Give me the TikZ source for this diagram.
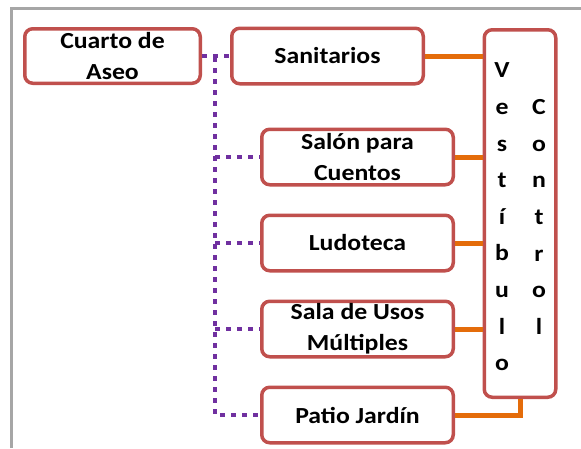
\documentclass[tikz,border=0pt]{standalone}
\usepackage{fontspec}
\setmainfont{Carlito}[FakeStretch=1.12]
\usepackage{xcolor}
\usepackage{tikz}
\usetikzlibrary{positioning, calc}
\definecolor{boxred}{RGB}{192, 80, 77}
\definecolor{linkorange}{RGB}{228, 108, 10}
\definecolor{linkpurple}{RGB}{112, 48, 160}
\definecolor{framegray}{RGB}{166, 166, 166}

\begin{document}
\begin{tikzpicture}[
    x=1pt, y=-1pt,
    room/.style={rectangle, draw=boxred, fill=white, line width=3.5pt, rounded corners=8pt, align=center, minimum width=191.5pt, minimum height=55.5pt, inner sep=2pt, font=\fontsize{23}{31}\selectfont\bfseries},
    letters/.style={align=center, inner sep=0pt, font=\fontsize{23}{36.6}\selectfont\bfseries},
    dotline/.style={line width=4pt, color=linkpurple, dash pattern=on 5pt off 6pt},
    solidline/.style={line width=5pt, color=linkorange}
]
    \useasboundingbox (0,0) rectangle (581,448);
    \draw [framegray, line width=3pt] (11,448) -- (11,8.5) -- (581,8.5);

    \node [room, minimum width=175.5pt, minimum height=54.5pt] (cuarto) at (112.5,56) {Cuarto de\\Aseo};
    \node [room, right=28pt of cuarto] (san) {Sanitarios};
    \node [room] (salon) at (357.5,157) {Salón para\\Cuentos};
    \node [room, below=27pt of salon] (ludo) {Ludoteca};
    \node [room, below=27pt of ludo] (sala) {Sala de Usos\\Múltiples};
    \node [room, below=27pt of sala] (patio) {Patio Jardín};
    \node [room, minimum width=71.5pt, minimum height=367.5pt] (vest) at (520,213.5) {};
    \node [letters] (vestw) at (502,217) {V\\e\\s\\t\\í\\b\\u\\l\\o};
    \node [letters] (ctrlw) at (539,217) {C\\o\\n\\t\\r\\o\\l};

    % links to the hall
    \draw [solidline] (san.east) -- (san.east -| vest.west);
    \draw [solidline] (salon.east) -- (salon.east -| vest.west);
    \draw [solidline] (ludo.east) -- (ludo.east -| vest.west);
    \draw [solidline] (sala.east) -- (sala.east -| vest.west);
    \draw [solidline] (patio.east) -| (vest.south);

    % links from the cleaning room
    \coordinate (split) at (215,57);
    \draw [dotline] (cuarto.east) -- (san.west);
    \draw [dotline] (split) |- (patio.west);
    \draw [dotline] (split |- salon.west) -- (salon.west);
    \draw [dotline] (split |- ludo.west) -- (ludo.west);
    \draw [dotline] (split |- sala.west) -- (sala.west);

\end{tikzpicture}
\end{document}
